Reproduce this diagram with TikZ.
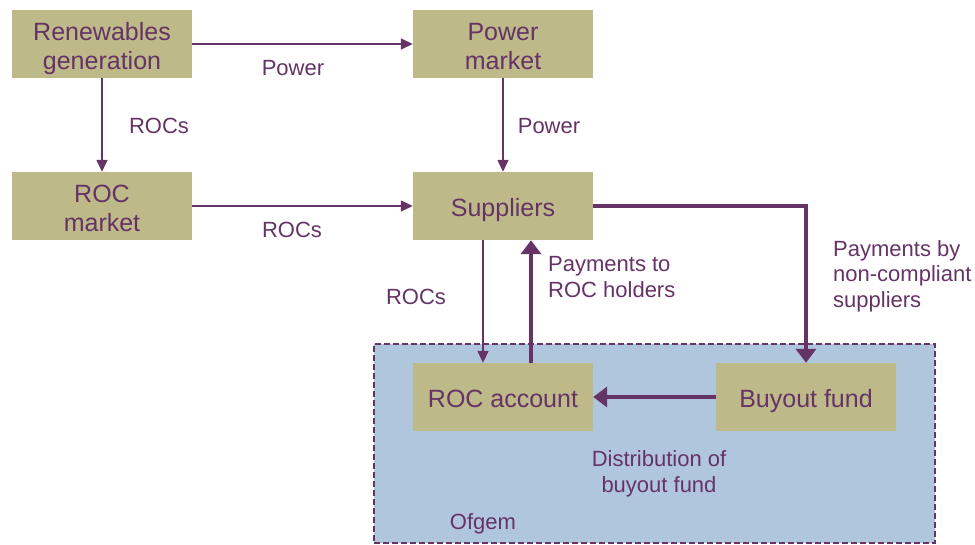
\documentclass[tikz,border=0pt]{standalone}
\usepackage{fontspec}
\setmainfont{Liberation Sans}
\usetikzlibrary{arrows.meta}
\definecolor{txt}{RGB}{102,51,102}
\definecolor{boxfill}{RGB}{190,185,136}
\definecolor{ofgemfill}{RGB}{176,198,220}
\newcommand\bxt[1]{\raisebox{-5pt}[\height][\depth]{\begin{tabular}{@{}c@{}}#1\end{tabular}}}
\tikzset{
  box/.style={fill=boxfill, draw=none, minimum width=180pt, minimum height=68pt, align=center, inner sep=0pt,
    text=txt, font=\fontsize{25}{29}\selectfont},
  lbl/.style={text=txt, font=\fontsize{22}{25.5}\selectfont, inner sep=0pt},
  thin/.style={draw=txt, line width=1.5pt, -{Triangle[length=12pt,width=11pt]}},
  thick/.style={draw=txt, line width=4pt, -{Triangle[length=14pt,width=20pt]}},
  ofgembox/.style={fill=ofgemfill, draw=txt, line width=1.6pt, dash pattern=on 6pt off 3pt, minimum width=561pt, minimum height=199pt, inner sep=0pt}
}
\begin{document}
\begin{tikzpicture}[x=1pt,y=-1pt]
\useasboundingbox (0,0) rectangle (975,544);
\node[ofgembox] (ofgem) at (654.5,443.5) {};
\node[box] (ren) at (102,44) {\bxt{Renewables\\generation}};
\node[box] (pm) at (503,44) {\bxt{Power\\market}};
\node[box] (rocm) at (102,206) {\bxt{ROC\\market}};
\node[box] (sup) at (503,206) {\bxt{Suppliers}};
\node[box] (roca) at (503,397) {\bxt{ROC account}};
\node[box] (buy) at (806,397) {\bxt{Buyout fund}};

\draw[thin] (ren.east) -- (pm.west);
\draw[thin] (ren.south) -- (rocm.north);
\draw[thin] (pm.south) -- (sup.north);
\draw[thin] (rocm.east) -- (sup.west);
\draw[thin] ([xshift=-20pt]sup.south) -- ([xshift=-20pt]roca.north);
\draw[thick] ([xshift=28pt]roca.north) -- ([xshift=28pt]sup.south);
\draw[thick] (sup.east) -| (buy.north);
\draw[thick] (buy.west) -- (roca.east);

\node[lbl] (l1) at (293,68) {Power};
\node[lbl] (l2) at (159,126) {ROCs};
\node[lbl] (l3) at (549,126) {Power};
\node[lbl] (l4) at (292,230) {ROCs};
\node[lbl] (l5) at (416,297) {ROCs};
\node[lbl, align=left, anchor=west] (l6) at (548,277) {Payments to\\ROC holders};
\node[lbl, align=left, anchor=west] (l7) at (833,276) {Payments by\\non-compliant\\suppliers};
\node[lbl, align=center] (l8) at (659,474) {Distribution of\\buyout fund};
\node[lbl] (l9) at (483,524) {Ofgem};
\end{tikzpicture}
\end{document}
